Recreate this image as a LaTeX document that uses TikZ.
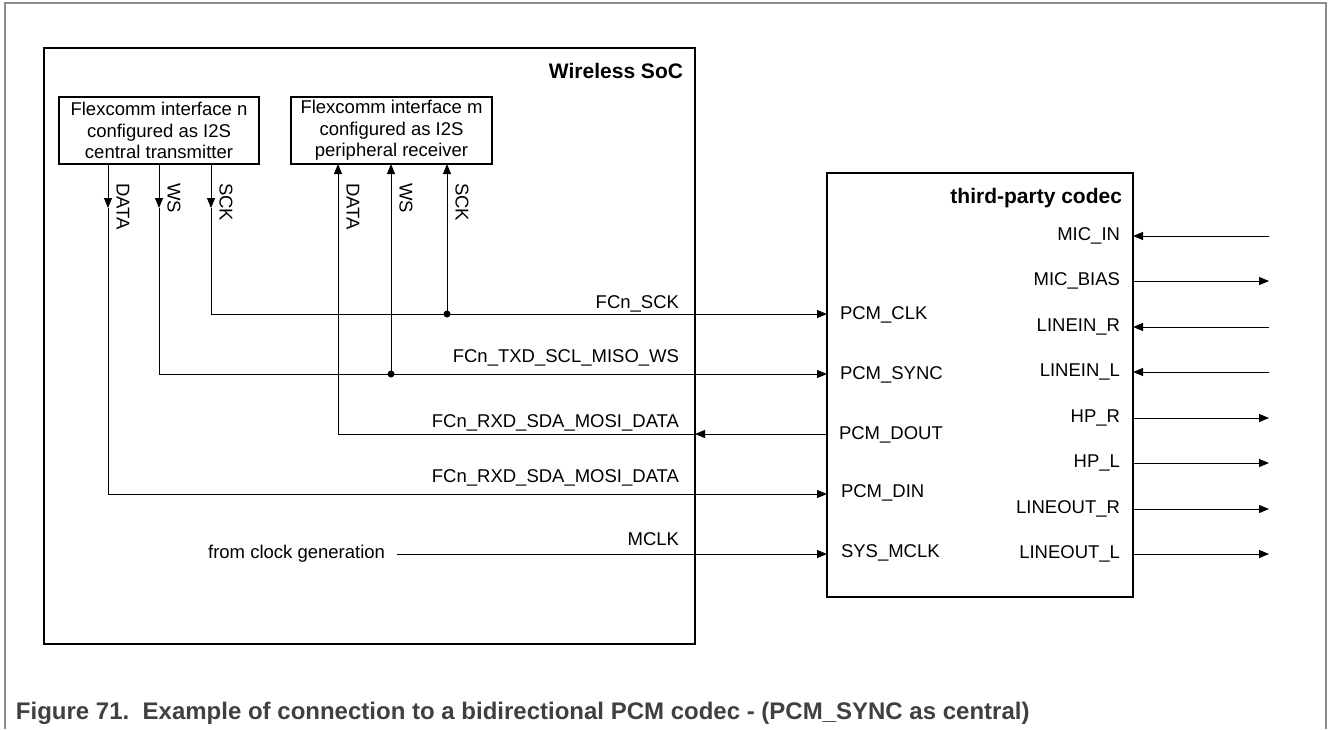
\documentclass[tikz,border=0pt]{standalone}
\usepackage{fontspec}
\setmainfont{Liberation Sans}
\usetikzlibrary{arrows.meta}
\definecolor{capgray}{HTML}{404040}
\definecolor{framegray}{HTML}{8C8C8C}
\begin{document}
\begin{tikzpicture}[x=1pt,y=-1pt,
  every node/.style={inner sep=0pt, outer sep=0pt},
  lbl/.style={font=\fontsize{18.5}{21.5}\selectfont},
  ttl/.style={font=\fontsize{21}{24}\selectfont\bfseries},
  bigbox/.style={draw, line width=1.8pt, anchor=north west},
  fcbox/.style={draw, line width=1.2pt, anchor=north west, minimum width=200pt, minimum height=67pt, align=center, font=\fontsize{18.5}{21.5}\selectfont},
  sig/.style={line width=1pt},
  arr/.style={sig, -{Triangle[length=10pt,width=8pt]}},
  jdot/.style={circle, fill, minimum size=7pt},
  framestyle/.style={draw=framegray, line width=1.2pt}
]
\useasboundingbox (0,0) rectangle (1328,729);

% figure frame
\draw[framestyle] (5,729) -- (5,3) -- (1326,3) -- (1326,729);

% main blocks
\node[bigbox, minimum width=651pt, minimum height=596pt] (soc) at (44,48) {};
\node[bigbox, minimum width=306pt, minimum height=424pt] (codec) at (827,173) {};
\node[fcbox] (fcn) at (59,97) {Flexcomm interface n\\configured as I2S\\central transmitter};
\node[fcbox, minimum width=201pt] (fcm) at (291,97) {Flexcomm interface m\\configured as I2S\\peripheral receiver};

\node[ttl, anchor=base east] (soct) at (683,78) {Wireless SoC};
\node[ttl, anchor=base east] (codect) at (1122,203) {third-party codec};

% coordinates
\coordinate (nDt) at (108,208);
\coordinate (nWt) at (159,208);
\coordinate (nSt) at (211,208);
\coordinate (nDc) at (108,494);
\coordinate (nWc) at (159,374);
\coordinate (nSc) at (211,314);
\coordinate (mDc) at (338,434);
\coordinate (pClk) at (827,314);
\coordinate (pSync) at (827,374);
\coordinate (pDout) at (827,434);
\coordinate (pDin) at (827,494);
\coordinate (pMclk) at (827,554);
\coordinate (mclksrc) at (397,554);
\coordinate (socDout) at (695,434);

\node[jdot] (dS) at (447,314) {};
\node[jdot] (dW) at (391,374) {};

% flexcomm n (transmitter) outputs
\draw[arr] (nDt |- fcn.south) -- (nDt);
\draw[arr] (nWt |- fcn.south) -- (nWt);
\draw[arr] (nSt |- fcn.south) -- (nSt);
\draw[arr] (nDt) -- (nDc) -- (pDin);
\draw[arr] (nWt) -- (nWc) -- (pSync);
\draw[arr] (nSt) -- (nSc) -- (pClk);

% flexcomm m (receiver) inputs
\draw[arr] (dS.center) -- (dS.center |- fcm.south);
\draw[arr] (dW.center) -- (dW.center |- fcm.south);
\draw[arr] (pDout) -- (socDout);
\draw[arr] (socDout) -- (mDc) -- (mDc |- fcm.south);

% MCLK
\node[lbl, anchor=east] (clkgen) at (385,554) {from clock generation};
\draw[arr] (mclksrc) -- (pMclk);

% vertical pin labels
\node[lbl, rotate=-90, anchor=west] (lnD) at (123,183) {DATA};
\node[lbl, rotate=-90, anchor=west] (lnW) at (174,183) {WS};
\node[lbl, rotate=-90, anchor=west] (lnS) at (226,183) {SCK};
\node[lbl, rotate=-90, anchor=west] (lmD) at (353,183) {DATA};
\node[lbl, rotate=-90, anchor=west] (lmW) at (406,183) {WS};
\node[lbl, rotate=-90, anchor=west] (lmS) at (462,183) {SCK};

% net labels
\node[lbl, anchor=base east] (l1) at (679,308) {FCn\_SCK};
\node[lbl, anchor=base east] (l2) at (679,362) {FCn\_TXD\_SCL\_MISO\_WS};
\node[lbl, anchor=base east] (l3) at (679,427) {FCn\_RXD\_SDA\_MOSI\_DATA};
\node[lbl, anchor=base east] (l4) at (679,482) {FCn\_RXD\_SDA\_MOSI\_DATA};
\node[lbl, anchor=base east] (l5) at (679,545) {MCLK};

% codec left pins
\node[lbl, anchor=west] (cl1) at (840,315) {PCM\_CLK};
\node[lbl, anchor=west] (cl2) at (840,375) {PCM\_SYNC};
\node[lbl, anchor=west] (cl3) at (839,435) {PCM\_DOUT};
\node[lbl, anchor=west] (cl4) at (841,493) {PCM\_DIN};
\node[lbl, anchor=west] (cl5) at (841,553) {SYS\_MCLK};

% codec right pins
\foreach \name/\yy/\dir in {MIC\_IN/236/in, MIC\_BIAS/281/out, LINEIN\_R/327/in, LINEIN\_L/372/in, HP\_R/418/out, HP\_L/463/out, LINEOUT\_R/509/out, LINEOUT\_L/554/out}{
  \node[lbl, anchor=east] at (1120,\yy) {\name};
  \coordinate (cpin) at (1133,\yy);
  \coordinate (cext) at (1269,\yy);
  \ifnum\pdfstrcmp{\dir}{in}=0
    \draw[arr] (cext) -- (cpin);
  \else
    \draw[arr] (cpin) -- (cext);
  \fi
}

% caption
\node[anchor=base west, text=capgray, font=\fontsize{24}{28}\selectfont\bfseries] (cap) at (16,719) {Figure 71.\ \ Example of connection to a bidirectional PCM codec - (PCM\_SYNC as central)};
\end{tikzpicture}
\end{document}
